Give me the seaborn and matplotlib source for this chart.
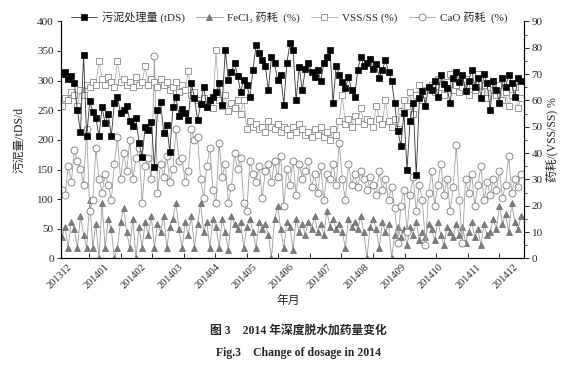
import numpy as np
import pandas as pd
import seaborn as sns
import matplotlib

matplotlib.use("Agg")
import matplotlib.pyplot as plt

# Values (one sample ~ every 3 days, Dec 2013 - Dec 2014)
sludge = [
    312, 315, 302, 308, 296, 250, 213, 343, 206, 265,
    247, 237, 206, 255, 228, 244, 206, 262, 272, 245,
    250, 258, 232, 224, 237, 195, 171, 222, 216, 230,
    154, 250, 264, 212, 225, 180, 255, 272, 240, 252,
    246, 233, 296, 270, 233, 260, 290, 255, 267, 272,
    280, 296, 259, 352, 301, 315, 329, 308, 281, 301,
    293, 272, 318, 360, 346, 335, 325, 284, 340, 329,
    301, 310, 259, 330, 363, 352, 267, 323, 284, 320,
    329, 315, 306, 318, 300, 329, 340, 352, 262, 325,
    310, 298, 287, 306, 284, 272, 318, 340, 325, 330,
    336, 320, 328, 305, 318, 335, 315, 300, 262, 215,
    190, 245, 150, 232, 262, 140, 270, 282, 258, 290,
    285, 300, 272, 310, 295, 288, 262, 305, 315, 298,
    310, 282, 300, 318, 290, 305, 270, 312, 296, 250,
    300, 285, 262, 305, 290, 310, 296, 272, 305, 300,
]
fecl3 = [
    8, 12, 4, 14, 11, 4, 16, 9, 4, 22,
    4, 13, 0, 21, 4, 15, 11, 0, 4, 14,
    19, 10, 4, 15, 0, 12, 4, 14, 9, 16,
    4, 13, 10, 16, 4, 12, 15, 21, 11, 4,
    14, 9, 16, 4, 13, 21, 10, 14, 4, 15,
    12, 4, 15, 10, 3, 16, 13, 11, 14, 4,
    12, 15, 10, 4, 14, 11, 13, 9, 0, 15,
    20, 11, 4, 14, 12, 3, 15, 10, 13, 9,
    14, 11, 16, 10, 13, 9, 18, 12, 15, 11,
    13, 10, 4, 15, 12, 14, 11, 16, 10, 0,
    12, 15, 11, 4, 14, 10, 13, 0, 9, 12,
    8, 11, 5, 12, 9, 14, 7, 10, 8, 13,
    11, 7, 14, 9, 5, 12, 10, 8, 13, 9,
    12, 6, 10, 14, 8, 11, 5, 13, 9, 10,
    15, 11, 20, 13, 17, 10, 21, 14, 11, 16,
]
vss_ss = [
    58, 61, 60, 63, 62, 58, 64, 62, 66, 65,
    67, 66, 75, 68, 66, 69, 67, 65, 75, 67,
    68, 66, 67, 65, 69, 66, 67, 73, 66, 68,
    67, 65, 68, 66, 67, 64, 65, 67, 63, 66,
    64, 71, 62, 63, 60, 59, 61, 58, 60, 57,
    79, 60, 58, 62, 56, 59, 57, 60, 55, 60,
    49, 52, 50, 51, 49, 50, 48, 52, 50, 49,
    51, 48, 50, 49, 47, 50, 48, 51, 49, 47,
    48, 46, 49, 47, 50, 46, 48, 45, 49, 47,
    52, 62, 51, 53, 50, 54, 52, 57, 51, 53,
    52, 50, 58, 53, 51, 60, 52, 50, 53, 49,
    56, 60, 58, 63, 55, 62, 66, 60, 64, 65,
    66, 63, 68, 65, 62, 67, 70, 64, 66, 63,
    65, 68, 62, 66, 64, 70, 63, 66, 61, 65,
    64, 62, 66, 60, 63, 58, 62, 65, 57, 61,
]
cao = [
    26, 24, 35, 29, 41, 37, 34, 28, 49, 18,
    22, 42, 30, 25, 32, 28, 22, 36, 46, 30,
    40, 33, 45, 30, 38, 42, 21, 35, 38, 30,
    77, 25, 36, 31, 39, 29, 34, 49, 37, 38,
    29, 33, 49, 45, 46, 30, 23, 35, 42, 26,
    21, 44, 31, 36, 21, 27, 40, 34, 38, 21,
    18, 37, 32, 29, 35, 23, 33, 36, 29, 37,
    31, 39, 20, 34, 28, 37, 24, 36, 30, 33,
    37, 27, 32, 25, 35, 22, 32, 30, 36, 28,
    44, 30, 22, 36, 28, 32, 27, 33, 30, 26,
    31, 28, 24, 33, 26, 30, 22, 27, 19, 6,
    20, 26, 10, 24, 31, 18, 28, 22, 5, 25,
    33, 20, 28, 36, 24, 30, 18, 27, 43, 22,
    6, 30, 25, 32, 20, 28, 35, 22, 29, 24,
    30, 26, 33, 23, 28, 39, 25, 30, 27, 32,
]
month_labels = ["201312", "201401", "201402", "201403", "201404", "201405",
                "201406", "201407", "201408", "201409", "201410", "201411",
                "201412"]

sns.set_style("ticks")
plt.rcParams["font.family"] = ["Liberation Serif", "DejaVu Serif", "Noto Sans CJK SC"]
plt.rcParams["axes.unicode_minus"] = False

df = pd.DataFrame({"day": np.arange(len(sludge)), "sludge": sludge,
                   "fecl3": fecl3, "vss": vss_ss, "cao": cao})

fig = plt.figure(figsize=(5.81, 3.75), dpi=100)
ax = fig.add_axes([0.1045, 0.311, 0.7975, 0.632])
ax2 = ax.twinx()

# right axis series
sns.lineplot(data=df, x="day", y="fecl3", ax=ax2, color="#9a9a9a", lw=0.6,
             marker="^", markersize=5, markerfacecolor="#7d7d7d",
             markeredgecolor="#6a6a6a", markeredgewidth=0.5,
             label="FeCl₃ 药耗  (%)")
sns.lineplot(data=df, x="day", y="cao", ax=ax2, color="#a0a0a0", lw=0.6,
             marker="o", markersize=5, markerfacecolor="white",
             markeredgecolor="#777777", markeredgewidth=0.6,
             label="CaO 药耗  (%)")
sns.lineplot(data=df, x="day", y="vss", ax=ax2, color="#b0b0b0", lw=0.6,
             marker="s", markersize=4.3, markerfacecolor="white",
             markeredgecolor="#888888", markeredgewidth=0.6,
             label="VSS/SS (%)")
# left axis series
sns.lineplot(data=df, x="day", y="sludge", ax=ax, color="#333333", lw=0.6,
             marker="s", markersize=4.3, markerfacecolor="black",
             markeredgecolor="black", markeredgewidth=0.5,
             label="污泥处理量 (tDS)")

for a in (ax, ax2):
    if a.get_legend() is not None:
        a.get_legend().remove()

ax.set_zorder(ax2.get_zorder() + 1)
ax.patch.set_visible(False)

ax.set_xlim(-0.42, 150.0)
ax.set_ylim(0, 400)
ax2.set_ylim(0, 90)
ax.set_yticks(np.arange(0, 401, 50))
ax2.set_yticks(np.arange(0, 91, 10))
ax2.set_yticks(np.arange(0, 91, 5), minor=True)

label_pos = np.linspace(1.6, 146.4, len(month_labels))
ax.set_xticks(label_pos)
ax.set_xticklabels(month_labels, rotation=45, ha="right", va="top",
                   rotation_mode="anchor", fontsize=7.5)
ax.set_xticks(np.arange(8.8, 150, 10.24), minor=True)
ax.tick_params(axis="x", which="major", length=0, pad=3)
ax.tick_params(axis="x", which="minor", length=3.5, direction="in", width=0.7)
ax.tick_params(axis="y", length=3, direction="out", width=0.7, labelsize=8, pad=2)
ax2.tick_params(axis="y", which="major", length=3.5, direction="out", width=0.7,
                labelsize=8, pad=2)
ax2.tick_params(axis="y", which="minor", length=2, direction="out", width=0.6)

for a in (ax, ax2):
    a.spines["top"].set_visible(False)
    for s in ("left", "right", "bottom"):
        a.spines[s].set_linewidth(0.8)
        a.spines[s].set_color("black")

ax.set_xlabel("")
ax.set_ylabel("污泥量/tDS/d", fontsize=8.5)
ax.yaxis.set_label_coords(-0.077, 0.5)
ax2.set_ylabel("药耗/(VSS/SS) %", fontsize=8.5)
ax2.yaxis.set_label_coords(1.0475, 0.5)

h1, l1 = ax.get_legend_handles_labels()
h2, l2 = ax2.get_legend_handles_labels()
handles = [h1[0], h2[0], h2[2], h2[1]]
labels = [l1[0], l2[0], l2[2], l2[1]]
fig.legend(handles, labels, ncol=4, loc="center",
           bbox_to_anchor=(289 / 581, 1 - 17 / 375), frameon=False,
           fontsize=8, handlelength=2.4, columnspacing=1.0, handletextpad=0.4)

fig.text(288 / 581, 1 - 301 / 375, "年月", ha="center", va="center", fontsize=8.5)
fig.text(298 / 581, 1 - 331 / 375, "图 3    2014 年深度脱水加药量变化",
         ha="center", va="center", fontsize=8.5, fontweight="bold")
fig.text(298 / 581, 1 - 353 / 375, "Fig.3    Change of dosage in 2014",
         ha="center", va="center", fontsize=8.5, fontweight="bold")

fig.savefig("out.png", dpi=100)
plt.close(fig)
